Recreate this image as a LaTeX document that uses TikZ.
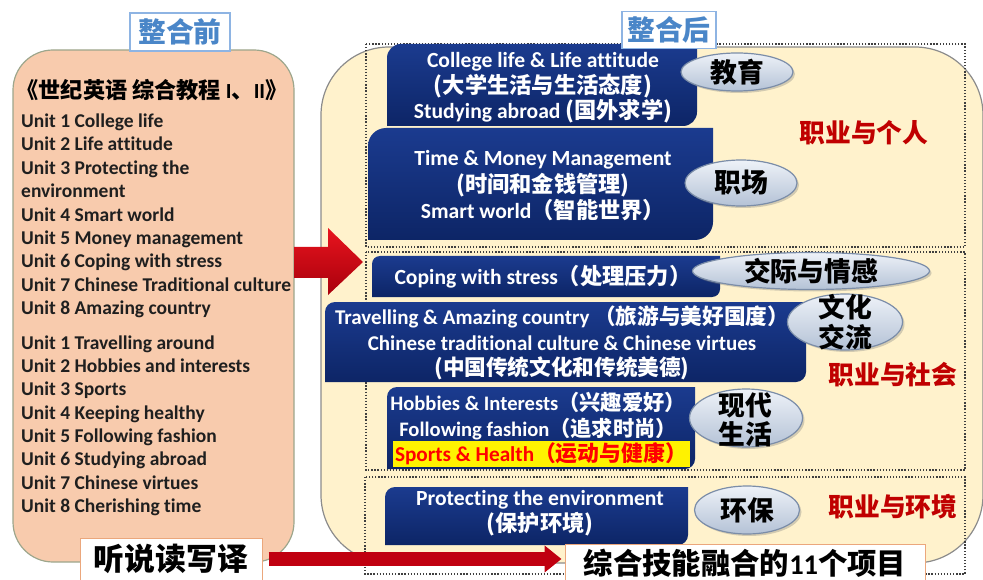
\documentclass[tikz,border=0pt]{standalone}
\usepackage{fontspec}
\setmainfont{Carlito}[Ligatures=CommonOff]
\newfontfamily\cjk{Noto Sans CJK SC}[Scale=1.03]
\usetikzlibrary{shadows,shapes.geometric,arrows.meta}
\definecolor{peach}{HTML}{F8CBAD}
\definecolor{peachline}{HTML}{9DA68C}
\definecolor{cream}{HTML}{FFF2CC}
\definecolor{creamline}{HTML}{8C8C8C}
\definecolor{navytop}{HTML}{1B3B8F}
\definecolor{navybot}{HTML}{0D2566}
\definecolor{darkred}{HTML}{C00000}
\definecolor{titleblue}{HTML}{4A86C8}
\definecolor{titleline}{HTML}{8EB4E3}
\definecolor{ovaltop}{HTML}{EEF2F8}
\definecolor{ovalbot}{HTML}{B4C2D6}
\definecolor{ovalline}{HTML}{7B8DA8}
\definecolor{orangeline}{HTML}{EBA77C}
\definecolor{dotline}{HTML}{3F3F3F}
\definecolor{arrowtop}{HTML}{E8141E}
\definecolor{arrowbot}{HTML}{A8000C}
\definecolor{arrowred}{HTML}{C00010}
\definecolor{unittext}{HTML}{1F1F1F}
\newcommand\zh[1]{{\cjk #1}}
\newcommand\fs[2]{\fontsize{#1}{#2}\selectfont}
\newcommand\navybox[5]{\shade[navyfill] [rounded corners=#5pt] (#1,#2) rectangle (#3,#4) [sharp corners] ({#3-#5},#2) rectangle (#3,{#2+#5}) (#1,{#4-#5}) rectangle ({#1+#5},#4);}
\begin{document}
\begin{tikzpicture}[x=1pt,y=-1pt,
  every node/.style={inner sep=0pt, font=\bfseries},
  unit/.style={anchor=west, font=\bfseries\fs{19.5}{23}, text=unittext, text height=13pt, text depth=4pt},
  boxtext/.style={text=white, align=center, font=\bfseries\fs{21.6}{25.5}},
  oval/.style={ellipse, draw=ovalline, line width=1.2pt, top color=ovaltop, bottom color=ovalbot, drop shadow={opacity=0.35, shadow xshift=2pt, shadow yshift=-2pt}},
  ovaltext/.style={font=\bfseries\fs{26}{29.5}, align=center, text=black},
  redlab/.style={text=darkred, font=\bfseries\fs{25}{28}},
  frame/.style={draw=dotline, line width=1.3pt, dash pattern=on 1.3pt off 1.8pt},
  navyfill/.style={top color=navytop, bottom color=navybot},
  hdr/.style={draw=titleline, line width=1.2pt, fill=white, text=titleblue, font=\bfseries\fs{27}{30}},
  result/.style={draw=orangeline, line width=1pt, fill=white, text=black, font=\bfseries\fs{28.5}{34}},
]
\useasboundingbox (0,0) rectangle (983,580);
% big panels
\draw[draw=peachline, fill=peach, line width=1.2pt, rounded corners=40pt] (13,50) rectangle (294,562);
\draw[draw=creamline, fill=cream, line width=1.2pt, rounded corners=68pt] (321,47) rectangle (983,563);
% dotted frames
\draw[frame] (366,44) rectangle (965,247);
\draw[frame] (366,252) rectangle (965,470);
\draw[frame] (365,477) rectangle (965,574);
% navy boxes
\navybox{387}{44}{697}{126}{14}
\navybox{368}{128}{713}{240}{18}
\navybox{372}{256}{720}{297}{8}
\navybox{325}{302}{806}{382}{10}
\navybox{387}{387}{695}{469}{10}
\navybox{385}{487}{688}{545}{10}
% box texts
\node[boxtext] (ta) at (543,88) {College life \& Life attitude\\\zh{(大学生活与生活态度)}\\Studying abroad \zh{(国外求学)}};
\node[boxtext, font=\bfseries\fs{21.6}{26.5}] (tb) at (543,186) {Time \& Money Management\\\zh{(时间和金钱管理)}\\Smart world\zh{（智能世界）}};
\node[boxtext] (tc) at (543,277) {Coping with stress\zh{（处理压力）}};
\node[boxtext, font=\bfseries\fs{21}{25.5}] (td) at (562,343) {Travelling \& Amazing country \zh{（旅游与美好国度）}\\Chinese traditional culture \& Chinese virtues\\\zh{(中国传统文化和传统美德)}};
\node[boxtext, font=\bfseries\fs{20.6}{25.5}] (te) at (538,416) {Hobbies \& Interests\zh{（兴趣爱好）}\\Following fashion\zh{（追求时尚）}};
\node[fill=yellow, text=red, font=\bfseries\fs{21.2}{25}, minimum width=297pt, minimum height=26pt] (th) at (541,454) {Sports \& Health\zh{（运动与健康）}};
\node[boxtext] (tf) at (540,513) {Protecting the environment\\\zh{(保护环境)}};
% ovals
\node[oval, minimum width=112pt, minimum height=38pt] (o1) at (737,72) {};
\node[ovaltext] (o1t) at (o1) {\zh{教育}};
\node[oval, minimum width=112pt, minimum height=46pt] (o2) at (741,183) {};
\node[ovaltext] (o2t) at (o2) {\zh{职场}};
\node[oval, minimum width=237pt, minimum height=37pt] (o3) at (811,271) {};
\node[ovaltext] (o3t) at (o3) {\zh{交际与情感}};
\node[oval, minimum width=115pt, minimum height=56pt] (o4) at (845,322) {};
\node[ovaltext] (o4t) at (845,322) {\zh{文化}\\\zh{交流}};
\node[oval, minimum width=113pt, minimum height=58pt] (o5) at (746,418) {};
\node[ovaltext] (o5t) at (745,420) {\zh{现代}\\\zh{生活}};
\node[oval, minimum width=105pt, minimum height=48pt] (o6) at (747,510) {};
\node[ovaltext] (o6t) at (o6) {\zh{环保}};
% red labels
\node[redlab] (r1) at (864,133) {\zh{职业与个人}};
\node[redlab] (r2) at (893,375) {\zh{职业与社会}};
\node[redlab] (r3) at (893,507) {\zh{职业与环境}};
% left content
\node[font=\bfseries\fs{21.5}{24}, text=black] (title) at (152,90) {\zh{《世纪英语 综合教程} I\zh{、}II\zh{》}};
\foreach \yy/\tx [count=\i] in {123/Unit 1 College life, 146/Unit 2 Life attitude, 170/Unit 3 Protecting the, 193/environment, 217/Unit 4 Smart world, 240/Unit 5 Money management, 263/Unit 6 Coping with stress, 287/Unit 7 Chinese Traditional culture, 310/Unit 8 Amazing country, 345/Unit 1 Travelling around, 368/Unit 2 Hobbies and interests, 391/Unit 3 Sports, 415/Unit 4 Keeping healthy, 438/Unit 5 Following fashion, 461/Unit 6 Studying abroad, 485/Unit 7 Chinese virtues, 508/Unit 8 Cherishing time}
  \node[unit] (u\i) at (21,\yy) {\tx};
% headers
\node[hdr, minimum width=100pt, minimum height=38pt] (h1) at (180,32) {\zh{整合前}};
\node[hdr, minimum width=94pt, minimum height=37pt] (h2) at (669,30) {\zh{整合后}};
% big arrow
\shade[top color=arrowtop, bottom color=arrowbot] (294,247) -- (328,247) -- (328,228) -- (363,262) -- (328,295) -- (328,278) -- (294,278) -- cycle;
% bottom boxes
\node[result, minimum width=182pt, minimum height=42pt, font=\bfseries\fs{30}{34}] (listen) at (171,559) {\zh{听说读写译}};
\node[result, minimum width=360pt, minimum height=38pt] (skills) at (745,563) {\zh{综合技能融合的}11\zh{个项目}};
\draw[line width=14pt, draw=arrowred, -{Triangle[length=17pt, width=26pt]}, shorten <=6pt, shorten >=3pt] (listen.east) -- (listen.east -| skills.west);
\end{tikzpicture}
\end{document}
